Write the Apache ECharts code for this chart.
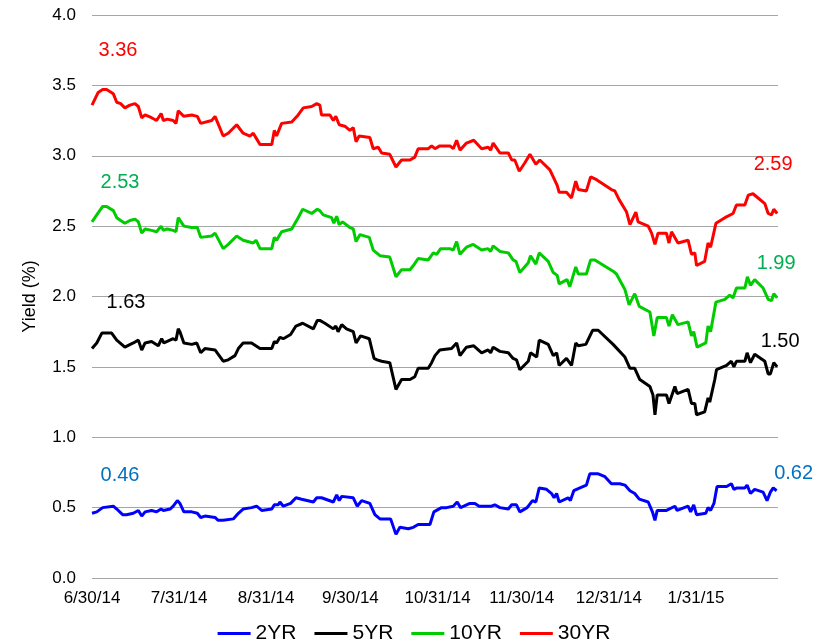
<!DOCTYPE html>
<html lang="en">
<head>
    <meta charset="UTF-8">
    <title>Treasury Yields</title>
    <script type="text/javascript" src="https://cdn.jsdelivr.net/npm/echarts@6/dist/echarts.min.js"></script>
    <style>
        html, body { margin: 0; padding: 0; background: #fff; }
        #chart { width: 828px; height: 639px; }
    </style>
</head>
<body>
<div id="chart"></div>
<script type="text/javascript">
    // x = days since 6/30/14, y = yield (%)
    var tickDays = [0, 31, 62, 92, 123, 153, 184, 215];
    var tickLabels = ['6/30/14', '7/31/14', '8/31/14', '9/30/14', '10/31/14', '11/30/14', '12/31/14', '1/31/15'];
    var names = ['2YR', '5YR', '10YR', '30YR'];

    var yr2 = [[0,0.46],[1.7,0.47],[3.8,0.50],[7.6,0.51],[8.8,0.49],[10.9,0.45],[12.3,0.45],[14.7,0.46],[16.5,0.48],[17.7,0.44],[18.9,0.47],[21.2,0.48],[23.0,0.47],[24.6,0.49],[25.4,0.48],[27.8,0.49],[28.9,0.51],[30.4,0.55],[31.3,0.53],[32.7,0.47],[35.5,0.47],[37.5,0.46],[38.7,0.43],[40.2,0.44],[43.8,0.43],[44.9,0.41],[46.7,0.41],[50.3,0.42],[52.1,0.46],[53.8,0.49],[56.8,0.50],[58.6,0.51],[60.4,0.48],[64.0,0.49],[64.9,0.52],[66.3,0.52],[66.9,0.54],[68.1,0.51],[70.7,0.53],[72.6,0.57],[74.6,0.56],[78.8,0.54],[80.0,0.57],[81.7,0.57],[85.9,0.54],[87.1,0.59],[88.0,0.55],[88.9,0.58],[93.0,0.57],[94.4,0.51],[96.0,0.55],[98.9,0.53],[100.7,0.45],[102.5,0.42],[106.3,0.42],[108.2,0.31],[109.6,0.36],[112.6,0.35],[114.4,0.36],[116.1,0.38],[120.3,0.38],[121.7,0.47],[124.4,0.50],[126.2,0.50],[128.6,0.51],[130.0,0.54],[131.2,0.50],[134.5,0.53],[136.3,0.53],[137.8,0.51],[142.2,0.51],[143.4,0.52],[145.2,0.50],[148.2,0.49],[149.4,0.52],[151.1,0.52],[152.3,0.47],[154.9,0.50],[156.8,0.55],[158.0,0.54],[159.2,0.64],[161.8,0.63],[163.6,0.60],[164.5,0.57],[165.4,0.60],[166.3,0.54],[169.5,0.57],[170.3,0.55],[171.5,0.62],[173.7,0.64],[176.0,0.66],[177.2,0.74],[180.2,0.74],[182.6,0.72],[184.9,0.67],[187.9,0.67],[189.7,0.66],[191.5,0.62],[193.2,0.60],[194.8,0.56],[198.0,0.54],[199.5,0.47],[200.4,0.41],[201.2,0.48],[204.5,0.48],[207.5,0.51],[208.3,0.48],[212.2,0.51],[213.1,0.47],[214.2,0.52],[215.2,0.45],[218.5,0.46],[219.3,0.50],[220.2,0.48],[221.4,0.53],[222.5,0.65],[225.9,0.65],[227.6,0.67],[228.5,0.63],[229.6,0.64],[232.4,0.64],[233.2,0.66],[234.4,0.60],[235.9,0.63],[238.9,0.61],[240.3,0.55],[241.5,0.61],[242.5,0.64],[243.7,0.62]];

    var yr5 = [[0,1.63],[1.7,1.67],[3.5,1.74],[7.0,1.74],[8.8,1.69],[11.7,1.64],[14.7,1.67],[16.5,1.69],[17.7,1.62],[18.9,1.67],[21.2,1.68],[23.6,1.65],[24.8,1.70],[25.6,1.67],[28.9,1.70],[29.9,1.69],[30.7,1.77],[31.3,1.75],[32.7,1.67],[35.5,1.66],[37.3,1.67],[38.7,1.60],[40.2,1.63],[43.8,1.62],[46.7,1.54],[48.5,1.55],[50.9,1.58],[52.1,1.63],[53.8,1.67],[56.8,1.67],[59.8,1.63],[60.7,1.63],[64.0,1.63],[64.9,1.68],[65.7,1.67],[66.9,1.71],[68.1,1.70],[70.7,1.73],[72.6,1.79],[75.0,1.81],[78.8,1.77],[80.2,1.83],[81.1,1.83],[82.9,1.81],[85.9,1.77],[86.8,1.79],[87.6,1.75],[88.9,1.80],[90.6,1.77],[93.0,1.75],[94.0,1.67],[95.6,1.72],[98.7,1.70],[100.4,1.56],[101.5,1.55],[103.1,1.54],[106.0,1.53],[108.2,1.34],[110.2,1.41],[113.2,1.41],[114.9,1.43],[116.1,1.49],[119.7,1.49],[120.9,1.53],[122.1,1.58],[123.8,1.62],[128.0,1.63],[129.8,1.67],[131.0,1.58],[133.3,1.64],[135.9,1.65],[138.7,1.60],[141.0,1.62],[141.9,1.60],[142.8,1.64],[145.2,1.61],[148.2,1.60],[149.9,1.56],[151.1,1.55],[152.3,1.48],[155.3,1.54],[156.1,1.60],[158.3,1.57],[159.2,1.69],[162.4,1.66],[164.2,1.58],[165.4,1.60],[166.3,1.51],[168.9,1.56],[170.7,1.51],[172.2,1.67],[173.1,1.65],[175.8,1.66],[178.2,1.76],[180.2,1.76],[185.5,1.66],[189.7,1.57],[191.5,1.49],[193.2,1.49],[195.0,1.41],[198.6,1.36],[199.7,1.30],[200.4,1.16],[201.2,1.30],[204.5,1.30],[205.4,1.24],[207.5,1.36],[208.3,1.31],[212.2,1.34],[213.4,1.24],[214.6,1.24],[215.2,1.16],[218.1,1.18],[219.3,1.28],[219.9,1.25],[221.7,1.41],[222.3,1.48],[225.9,1.51],[227.6,1.54],[228.5,1.50],[229.4,1.54],[232.4,1.54],[233.2,1.60],[234.4,1.53],[235.9,1.59],[239.5,1.54],[240.7,1.45],[241.5,1.45],[242.7,1.53],[243.9,1.50]];

    var yr10 = [[0,2.53],[1.7,2.58],[3.8,2.64],[5.2,2.64],[7.6,2.61],[8.8,2.56],[10.2,2.54],[11.7,2.52],[13.5,2.54],[15.3,2.55],[16.5,2.53],[17.7,2.45],[18.9,2.48],[21.2,2.47],[23.0,2.46],[24.6,2.50],[25.4,2.47],[26.8,2.48],[28.9,2.47],[29.9,2.46],[30.7,2.56],[31.3,2.56],[32.7,2.50],[35.5,2.49],[37.5,2.49],[38.7,2.42],[42.6,2.43],[43.8,2.45],[46.7,2.34],[48.5,2.37],[51.5,2.43],[53.8,2.40],[57.4,2.38],[58.4,2.40],[59.8,2.34],[64.0,2.34],[64.9,2.42],[65.7,2.40],[67.5,2.46],[71.1,2.48],[73.4,2.56],[75.0,2.62],[78.2,2.59],[80.2,2.62],[81.1,2.61],[82.3,2.58],[85.3,2.56],[86.1,2.52],[87.1,2.57],[88.0,2.51],[89.2,2.53],[91.8,2.49],[93.0,2.48],[94.0,2.39],[95.4,2.44],[98.7,2.42],[100.1,2.33],[102.5,2.29],[106.0,2.28],[108.2,2.14],[110.2,2.19],[113.2,2.19],[114.4,2.22],[116.1,2.27],[119.7,2.26],[121.5,2.31],[122.7,2.30],[124.1,2.34],[127.4,2.34],[128.6,2.33],[129.8,2.39],[131.0,2.30],[133.3,2.35],[135.7,2.37],[138.7,2.33],[141.0,2.34],[141.9,2.32],[142.8,2.36],[145.2,2.32],[148.2,2.31],[149.9,2.26],[150.9,2.25],[152.3,2.17],[155.3,2.24],[156.1,2.29],[158.0,2.23],[159.2,2.31],[162.4,2.25],[164.2,2.17],[165.6,2.15],[166.3,2.09],[169.1,2.12],[170.1,2.07],[172.2,2.21],[173.1,2.16],[176.0,2.16],[177.5,2.26],[179.0,2.26],[185.5,2.18],[186.7,2.16],[189.7,2.05],[191.2,1.94],[193.2,2.02],[194.8,1.93],[198.6,1.89],[200.0,1.72],[201.2,1.85],[204.5,1.85],[205.4,1.79],[206.6,1.87],[208.6,1.80],[212.2,1.82],[213.4,1.72],[214.2,1.75],[215.4,1.64],[218.5,1.67],[219.3,1.79],[220.2,1.75],[222.1,1.96],[225.3,1.98],[227.0,2.01],[228.2,1.99],[229.4,2.06],[232.4,2.06],[233.3,2.14],[234.4,2.08],[235.9,2.12],[238.9,2.06],[240.7,1.98],[241.9,1.97],[242.7,2.02],[243.9,1.99]];

    var yr30 = [[0,3.36],[2.2,3.45],[3.8,3.47],[5.2,3.47],[7.6,3.44],[8.8,3.38],[10.2,3.37],[11.7,3.34],[13.5,3.36],[15.3,3.37],[16.5,3.35],[17.7,3.27],[18.9,3.29],[21.2,3.27],[23.0,3.25],[24.6,3.30],[25.4,3.25],[26.8,3.26],[28.9,3.25],[29.9,3.23],[30.7,3.32],[31.3,3.32],[32.7,3.28],[35.5,3.29],[37.5,3.28],[38.7,3.23],[42.6,3.25],[43.8,3.28],[46.7,3.14],[48.5,3.16],[51.5,3.22],[53.8,3.16],[56.2,3.14],[57.4,3.16],[58.6,3.12],[59.8,3.08],[64.0,3.08],[64.9,3.18],[65.7,3.14],[67.5,3.23],[71.1,3.24],[73.4,3.29],[75.2,3.34],[78.2,3.35],[80.0,3.37],[81.1,3.36],[81.7,3.29],[84.7,3.29],[85.9,3.25],[86.8,3.28],[88.0,3.22],[90.0,3.21],[91.8,3.18],[93.0,3.20],[94.0,3.10],[95.1,3.14],[98.9,3.13],[100.1,3.05],[101.9,3.06],[103.1,3.02],[106.0,3.01],[108.2,2.92],[110.2,2.97],[113.2,2.97],[114.9,2.99],[116.1,3.05],[119.7,3.05],[120.9,3.07],[122.1,3.05],[123.8,3.07],[127.4,3.07],[128.6,3.05],[129.8,3.11],[131.0,3.04],[133.3,3.09],[135.9,3.11],[138.7,3.05],[141.0,3.06],[141.9,3.04],[142.8,3.09],[145.2,3.02],[148.2,3.02],[149.4,2.97],[150.5,2.97],[152.1,2.89],[154.1,2.95],[155.9,3.01],[158.0,2.94],[159.4,2.97],[163.0,2.90],[165.6,2.79],[166.3,2.74],[168.9,2.74],[170.7,2.70],[172.2,2.82],[173.1,2.76],[176.0,2.75],[177.5,2.85],[179.6,2.83],[184.9,2.76],[186.1,2.75],[187.6,2.69],[190.3,2.60],[191.5,2.51],[193.6,2.60],[194.4,2.53],[198.0,2.50],[199.2,2.45],[200.4,2.37],[201.5,2.45],[204.5,2.45],[205.4,2.38],[206.3,2.46],[208.6,2.38],[212.2,2.40],[213.4,2.30],[214.6,2.31],[215.2,2.22],[218.1,2.25],[219.3,2.38],[220.2,2.35],[222.1,2.52],[225.3,2.56],[228.2,2.59],[229.4,2.65],[232.4,2.65],[233.6,2.72],[235.3,2.73],[239.5,2.66],[240.7,2.59],[241.9,2.58],[242.7,2.62],[243.9,2.59]];

    var font = "'Liberation Sans', Arial, sans-serif";

    // first / last value labels
    function endMarks(data, color, startOff, endOff) {
        var first = data[0], last = data[data.length - 1];
        return {
            symbol: 'circle',
            symbolSize: 1,
            itemStyle: {color: 'transparent'},
            label: {
                show: true,
                position: 'inside',
                color: color,
                fontSize: 20,
                fontFamily: font,
                formatter: function (p) { return p.value.toFixed(2); }
            },
            data: [
                {coord: first, value: first[1], label: {offset: startOff}},
                {coord: last, value: last[1], label: {offset: endOff}}
            ]
        };
    }

    function line(name, data, color, labelColor, startOff, endOff) {
        return {
            name: name,
            type: 'line',
            data: data,
            showSymbol: false,
            symbol: 'none',
            lineStyle: {color: color, width: 3},
            itemStyle: {color: color},
            markPoint: endMarks(data, labelColor, startOff, endOff)
        };
    }

    var myChart = echarts.init(document.getElementById('chart'));
    var option = {
        animation: false,
        grid: {left: 92, right: 50, top: 15, bottom: 61},
        legend: {
            data: names,
            top: 618,
            left: 'center',
            itemWidth: 33,
            itemHeight: 14,
            itemGap: 18,
            icon: 'path://M0,6 L33,6 L33,9 L0,9 Z',
            textStyle: {fontSize: 21, fontFamily: font, color: '#000'}
        },
        xAxis: {
            type: 'value',
            min: 0,
            max: 244.2,
            axisLine: {show: false},
            axisTick: {show: false},
            splitLine: {show: false},
            axisLabel: {
                customValues: tickDays,
                margin: 12,
                fontSize: 17,
                fontFamily: font,
                color: '#000',
                formatter: function (v) {
                    var i = tickDays.indexOf(v);
                    return i >= 0 ? tickLabels[i] : '';
                }
            }
        },
        yAxis: {
            type: 'value',
            min: 0,
            max: 4,
            interval: 0.5,
            name: 'Yield (%)',
            nameLocation: 'middle',
            nameGap: 53,
            nameTextStyle: {fontSize: 18, fontFamily: font, color: '#000'},
            axisLine: {show: false},
            axisTick: {show: false},
            splitLine: {lineStyle: {color: '#a6a6a6', width: 1}},
            axisLabel: {
                margin: 16,
                fontSize: 17,
                fontFamily: font,
                color: '#000',
                formatter: function (v) { return v.toFixed(1); }
            }
        },
        series: [
            line('2YR', yr2, '#0000ff', '#0070c0', [28, -38], [17, -17]),
            line('5YR', yr5, '#000000', '#000000', [34, -46], [3, -25]),
            line('10YR', yr10, '#00cc00', '#00b050', [28, -39], [-1, -34]),
            line('30YR', yr30, '#ff0000', '#ff0000', [26, -55], [-4, -49])
        ]
    };
    myChart.setOption(option);
</script>
</body>
</html>
